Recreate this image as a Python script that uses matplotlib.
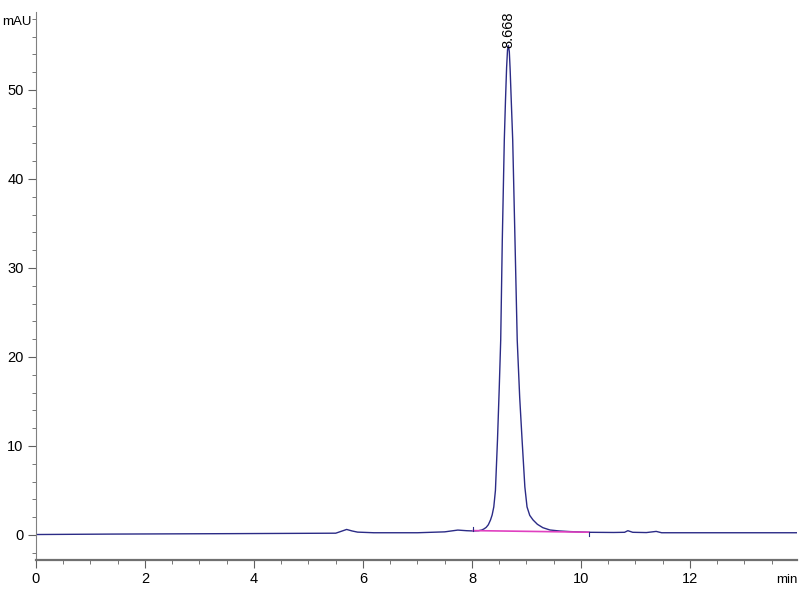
import matplotlib
matplotlib.use("Agg")
import matplotlib.pyplot as plt
from matplotlib.ticker import MultipleLocator

# chromatogram trace (min, mAU)
time_min = [0.0, 1.4, 3.6, 5.5, 5.62, 5.7, 5.8, 5.9, 6.2, 7.0, 7.5, 7.74, 7.9,
            8.02, 8.12, 8.18, 8.22, 8.26, 8.30, 8.34, 8.37, 8.40, 8.43,
            8.468, 8.50, 8.527, 8.556, 8.593, 8.615, 8.635, 8.652, 8.668,
            8.685, 8.70, 8.72, 8.747, 8.789, 8.83, 8.875, 8.919, 8.97, 9.01,
            9.06, 9.12, 9.2, 9.3, 9.43, 9.6, 9.8, 10.15, 10.6, 10.8, 10.86,
            10.95, 11.2, 11.38, 11.48, 11.8, 13.96]
signal_mau = [0.05, 0.1, 0.15, 0.2, 0.45, 0.62, 0.45, 0.32, 0.25, 0.25, 0.35,
              0.55, 0.48, 0.45, 0.48, 0.56, 0.68, 0.85, 1.15, 1.69, 2.25,
              3.15, 5.0, 10.7, 16.5, 21.9, 33.1, 44.4, 48.9, 52.5, 54.5, 55.0,
              54.3, 52.3, 48.9, 44.4, 33.1, 21.9, 15.5, 10.7, 5.4, 3.15, 2.2,
              1.69, 1.2, 0.82, 0.56, 0.45, 0.38, 0.3, 0.28, 0.3, 0.48, 0.3,
              0.27, 0.4, 0.25, 0.25, 0.25]

# integration baseline of the main peak
base_t = [8.02, 10.15]
base_y = [0.49, 0.31]

peak_rt = 8.668
peak_height = 55.0

fig = plt.figure(figsize=(8, 6), dpi=100)
ax = fig.add_axes([0.045, 0.0667, 0.951, 0.9133])

ax.plot(time_min, signal_mau, color="#2b2b86", lw=1.0)
ax.plot(base_t, base_y, color="#e040c0", lw=1.2)
# start / end marks of the integration
ax.plot([base_t[0], base_t[0]], [base_y[0], base_y[0] + 0.45], color="#2b2b86", lw=0.8)
ax.plot([base_t[1], base_t[1]], [base_y[1], base_y[1] - 0.45], color="#2b2b86", lw=0.8)

ax.text(peak_rt, peak_height - 0.3, f"{peak_rt:.3f}", rotation=90,
        ha="center", va="bottom", fontsize=10.5, family="Liberation Sans")

ax.set_xlim(0, 13.96)
ax.set_ylim(-2.81, 58.76)

ax.xaxis.set_major_locator(MultipleLocator(2))
ax.xaxis.set_minor_locator(MultipleLocator(0.5))
ax.yaxis.set_major_locator(MultipleLocator(10))
ax.yaxis.set_minor_locator(MultipleLocator(2))

for s in ("top", "right"):
    ax.spines[s].set_visible(False)
ax.spines["left"].set_color("#808080")
ax.spines["bottom"].set_color("#707070")
ax.spines["bottom"].set_linewidth(1.6)

ax.tick_params(which="major", length=6, color="#606060", labelsize=10.5, pad=3)
ax.tick_params(which="minor", length=3, color="#606060")
for lbl in ax.get_xticklabels() + ax.get_yticklabels():
    lbl.set_family("Liberation Sans")

fig.text(0.003, 1 - 22 / 600, "mAU", ha="left", va="center",
         fontsize=9.5, family="Liberation Sans")
fig.text(0.997, 20 / 600, "min", ha="right", va="center",
         fontsize=9.5, family="Liberation Sans")

fig.savefig("out.png", dpi=100)
